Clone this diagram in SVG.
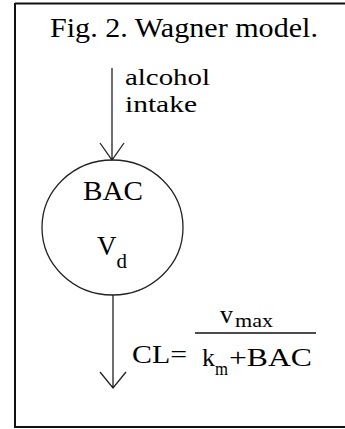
<svg xmlns="http://www.w3.org/2000/svg" width="345" height="429" viewBox="0 0 345 429">
<style>
text{font-family:"Liberation Serif","Times New Roman",serif;fill:#000}
.ln{stroke:#222;stroke-width:1.3;fill:none}
</style>
<rect x="0" y="0" width="345" height="429" fill="#fff"/>
<g id="frame">
<path d="M15 3.5 H345 M15 3 V428 M15 427 H345" stroke="#111" stroke-width="2" fill="none"/>
</g>
<g id="title">
<text x="50" y="37" font-size="28" textLength="268" lengthAdjust="spacingAndGlyphs">Fig. 2. Wagner model.</text>
</g>
<g id="intake-label">
<text x="125" y="85" font-size="24" textLength="85" lengthAdjust="spacingAndGlyphs">alcohol</text>
<text x="125" y="112" font-size="24" textLength="72" lengthAdjust="spacingAndGlyphs">intake</text>
</g>
<g id="bac-node">
<ellipse cx="112.5" cy="227.5" rx="70.5" ry="67.5" class="ln" stroke-width="1.1"/>
<text x="83" y="200" font-size="27" textLength="60" lengthAdjust="spacingAndGlyphs">BAC</text>
<text x="97" y="255" font-size="27">V<tspan font-size="21" dy="13">d</tspan></text>
</g>
<g id="connectors">
<path class="ln" d="M112 68 V160 M100 143 L112 160 L124 143"/>
<path class="ln" d="M113 295 V388 M100 372 L113 388 L126 372"/>
</g>
<g id="clearance-label">
<text x="132" y="363" font-size="25" textLength="55" lengthAdjust="spacingAndGlyphs">CL=</text>
<path d="M195 333 H316" stroke="#111" stroke-width="1.3"/>
<text x="220" y="323" font-size="26">v</text>
<text x="235" y="327" font-size="18" textLength="38" lengthAdjust="spacingAndGlyphs">max</text>
<text x="202" y="366" font-size="26">k</text>
<text x="215" y="375" font-size="18" textLength="13" lengthAdjust="spacingAndGlyphs">m</text>
<text x="229" y="366" font-size="26" textLength="83" lengthAdjust="spacingAndGlyphs">+BAC</text>
</g>
</svg>
